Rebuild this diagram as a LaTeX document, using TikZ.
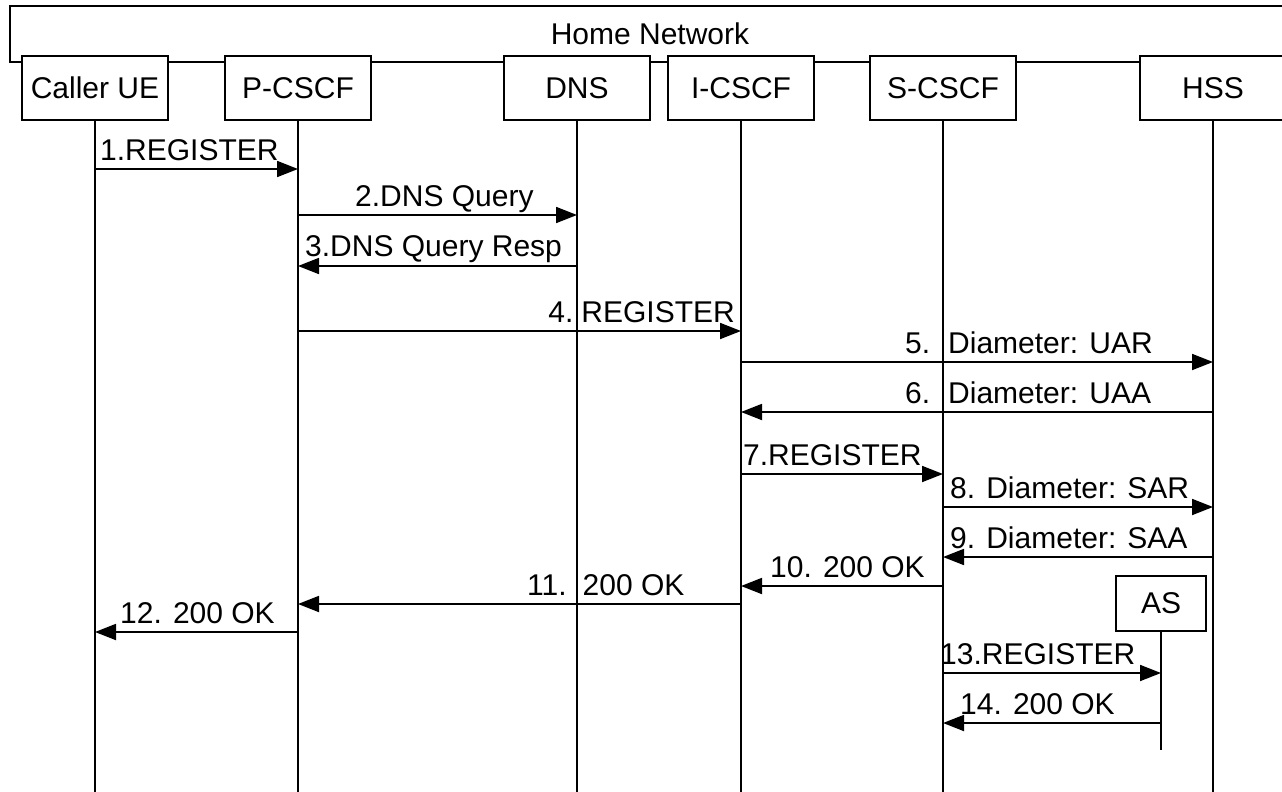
\documentclass[tikz,border=0pt]{standalone}
\usepackage{fontspec}
\setmainfont{Liberation Sans}
\usetikzlibrary{arrows.meta}
\begin{document}
\begin{tikzpicture}[x=1pt,y=-1pt,
  txt/.style={font=\fontsize{30}{34}\selectfont},
  ent/.style={draw, line width=1.8pt, fill=white, minimum width=146pt, minimum height=64pt, inner sep=0pt, txt},
  life/.style={line width=1.8pt},
  msg/.style={line width=1.8pt, -{Triangle[length=21pt,width=16pt]}},
  lbl/.style={inner sep=0pt, txt}]
\clip (0,0) rectangle (1282,792);
\fill[white] (0,0) rectangle (1282,792);
% home network frame
\node[draw, line width=1.8pt, minimum width=1280pt, minimum height=56pt, inner sep=0pt, txt] (home) at (650,34) {Home Network};
% entities
\node[ent] (ue)  at (95,88)   {Caller UE};
\node[ent] (pc)  at (298,88)  {P-CSCF};
\node[ent] (dns) at (577,88)  {DNS};
\node[ent] (ic)  at (741,88)  {I-CSCF};
\node[ent] (sc)  at (943,88)  {S-CSCF};
\node[ent] (hss) at (1213,88) {HSS};
\node[ent, minimum width=90pt, minimum height=55pt] (as) at (1161,603.5) {AS};
% lifelines
\coordinate (bot) at (0,800);
\coordinate (asend) at (0,750);
\foreach \n in {ue,pc,dns,ic,sc,hss}{\draw[life] (\n.south) -- (\n.south |- bot);}
\draw[life] (as.south) -- (as.south |- asend);
% message levels
\coordinate (y1) at (0,169);
\coordinate (y2) at (0,215);
\coordinate (y3) at (0,266);
\coordinate (y4) at (0,331);
\coordinate (y5) at (0,362);
\coordinate (y6) at (0,412);
\coordinate (y7) at (0,474);
\coordinate (y8) at (0,507);
\coordinate (y9) at (0,557);
\coordinate (y10) at (0,586);
\coordinate (y11) at (0,604);
\coordinate (y12) at (0,632);
\coordinate (y13) at (0,673);
\coordinate (y14) at (0,723);
% messages
\draw[msg] (ue |- y1) -- (pc |- y1);
\draw[msg] (pc |- y2) -- (dns |- y2);
\draw[msg] (dns |- y3) -- (pc |- y3);
\draw[msg] (pc |- y4) -- (ic |- y4);
\draw[msg] (ic |- y5) -- (hss |- y5);
\draw[msg] (hss |- y6) -- (ic |- y6);
\draw[msg] (ic |- y7) -- (sc |- y7);
\draw[msg] (sc |- y8) -- (hss |- y8);
\draw[msg] (hss |- y9) -- (sc |- y9);
\draw[msg] (sc |- y10) -- (ic |- y10);
\draw[msg] (ic |- y11) -- (pc |- y11);
\draw[msg] (pc |- y12) -- (ue |- y12);
\draw[msg] (sc |- y13) -- (as |- y13);
\draw[msg] (as |- y14) -- (sc |- y14);
% labels
\node[lbl, anchor=base west] (l1) at (100,160) {1.REGISTER};
\node[lbl, anchor=base west] (l2) at (355,206) {2.DNS Query};
\node[lbl, anchor=base west] (l3) at (305,256) {3.DNS Query Resp};
\node[lbl, anchor=base east] (l4) at (735,322) {4.\hspace{8pt}REGISTER};
\node[lbl, anchor=base west] (l5) at (905,353) {5.\hspace{18pt}Diameter: UAR};
\node[lbl, anchor=base west] (l6) at (905,403) {6.\hspace{18pt}Diameter: UAA};
\node[lbl, anchor=base west] (l7) at (743,465) {7.REGISTER};
\node[lbl, anchor=base west] (l8) at (950,498) {8. Diameter: SAR};
\node[lbl, anchor=base west] (l9) at (950,548) {9. Diameter: SAA};
\node[lbl, anchor=base west] (l10) at (770,577) {10. 200 OK};
\node[lbl, anchor=base west] (l11) at (527,595) {11.\hspace{16pt}200 OK};
\node[lbl, anchor=base west] (l12) at (120,623) {12. 200 OK};
\node[lbl, anchor=base west] (l13) at (940,664) {13.REGISTER};
\node[lbl, anchor=base west] (l14) at (960,714) {14. 200 OK};
\end{tikzpicture}
\end{document}
